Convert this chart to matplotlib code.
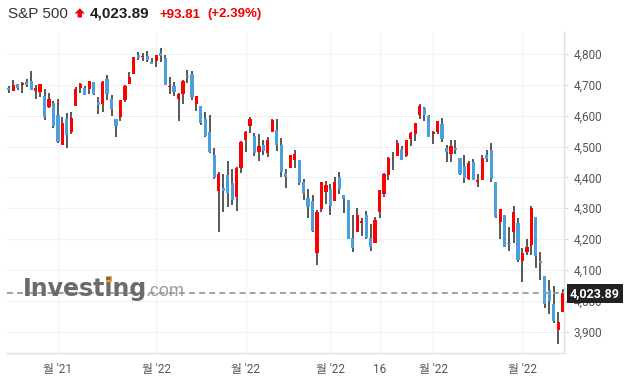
import matplotlib
matplotlib.use('Agg')
import matplotlib.pyplot as plt
from matplotlib.patches import Polygon, Rectangle

plt.rcParams['font.family'] = ['Roboto', 'Noto Sans CJK KR', 'DejaVu Sans']

# S&P 500 daily candles, 2021-11-15 .. 2022-05-13
dates = [
    '2021-11-15', '2021-11-16', '2021-11-17', '2021-11-18', '2021-11-19', '2021-11-22',
    '2021-11-23', '2021-11-24', '2021-11-26', '2021-11-29', '2021-11-30',
    '2021-12-01', '2021-12-02', '2021-12-03', '2021-12-06', '2021-12-07', '2021-12-08',
    '2021-12-09', '2021-12-10', '2021-12-13', '2021-12-14', '2021-12-15', '2021-12-16',
    '2021-12-17', '2021-12-20', '2021-12-21', '2021-12-22', '2021-12-23', '2021-12-27',
    '2021-12-28', '2021-12-29', '2021-12-30', '2021-12-31',
    '2022-01-03', '2022-01-04', '2022-01-05', '2022-01-06', '2022-01-07', '2022-01-10',
    '2022-01-11', '2022-01-12', '2022-01-13', '2022-01-14', '2022-01-18', '2022-01-19',
    '2022-01-20', '2022-01-21', '2022-01-24', '2022-01-25', '2022-01-26', '2022-01-27',
    '2022-01-28', '2022-01-31',
    '2022-02-01', '2022-02-02', '2022-02-03', '2022-02-04', '2022-02-07', '2022-02-08',
    '2022-02-09', '2022-02-10', '2022-02-11', '2022-02-14', '2022-02-15', '2022-02-16',
    '2022-02-17', '2022-02-18', '2022-02-22', '2022-02-23', '2022-02-24', '2022-02-25',
    '2022-02-28',
    '2022-03-01', '2022-03-02', '2022-03-03', '2022-03-04', '2022-03-07', '2022-03-08',
    '2022-03-09', '2022-03-10', '2022-03-11', '2022-03-14', '2022-03-15', '2022-03-16',
    '2022-03-17', '2022-03-18', '2022-03-21', '2022-03-22', '2022-03-23', '2022-03-24',
    '2022-03-25', '2022-03-28', '2022-03-29', '2022-03-30', '2022-03-31',
    '2022-04-01', '2022-04-04', '2022-04-05', '2022-04-06', '2022-04-07', '2022-04-08',
    '2022-04-11', '2022-04-12', '2022-04-13', '2022-04-14', '2022-04-18', '2022-04-19',
    '2022-04-20', '2022-04-21', '2022-04-22', '2022-04-25', '2022-04-26', '2022-04-27',
    '2022-04-28', '2022-04-29',
    '2022-05-02', '2022-05-03', '2022-05-04', '2022-05-05', '2022-05-06', '2022-05-09',
    '2022-05-10', '2022-05-11', '2022-05-12', '2022-05-13',
]

opens = [
    4689.30, 4679.42, 4701.50, 4700.72, 4708.44, 4712.00, 4678.48, 4675.78, 4664.63, 4628.75, 4640.25,
    4602.82, 4504.73, 4589.49, 4548.37, 4631.97, 4690.86, 4691.00, 4687.64, 4710.30, 4642.99, 4636.46,
    4719.13, 4652.50, 4587.90, 4594.96, 4650.36, 4703.96, 4733.99, 4795.49, 4788.64, 4794.23, 4775.21,
    4778.14, 4804.51, 4787.99, 4693.39, 4697.66, 4655.34, 4669.14, 4728.59, 4733.56, 4637.99, 4632.24,
    4588.03, 4547.35, 4471.38, 4356.32, 4366.64, 4408.43, 4380.58, 4336.19, 4431.79,
    4519.57, 4566.39, 4535.41, 4482.79, 4505.75, 4480.02, 4547.00, 4553.24, 4506.27, 4412.61, 4429.28,
    4455.75, 4456.06, 4384.57, 4332.74, 4324.93, 4155.77, 4298.38, 4354.17,
    4363.14, 4322.56, 4401.31, 4342.12, 4327.01, 4202.66, 4223.10, 4252.55, 4279.50, 4202.75, 4188.82,
    4288.14, 4345.11, 4407.34, 4462.40, 4469.10, 4493.10, 4469.98, 4522.91, 4541.09, 4602.86, 4624.20,
    4599.02,
    4540.32, 4547.97, 4572.45, 4494.17, 4474.65, 4494.15, 4462.64, 4437.59, 4394.30, 4449.12, 4385.63,
    4390.63, 4472.26, 4489.17, 4385.83, 4255.34, 4278.14, 4186.52, 4222.58, 4253.75,
    4130.61, 4159.78, 4181.18, 4270.43, 4128.17, 4081.27, 4035.18, 3990.08, 3903.95, 3963.90,
]

highs = [
    4697.42, 4714.95, 4701.50, 4708.80, 4717.75, 4743.83, 4699.39, 4702.87, 4685.25, 4672.95, 4646.02,
    4652.94, 4595.46, 4608.03, 4612.60, 4694.04, 4705.06, 4695.26, 4713.57, 4710.30, 4660.47, 4712.60,
    4731.99, 4666.70, 4587.90, 4651.14, 4697.67, 4740.74, 4791.49, 4807.02, 4804.06, 4808.93, 4786.83,
    4796.64, 4818.62, 4797.70, 4725.01, 4707.95, 4673.02, 4714.13, 4748.83, 4744.13, 4665.13, 4632.24,
    4611.55, 4602.11, 4494.52, 4417.35, 4411.01, 4453.23, 4428.74, 4432.72, 4516.89,
    4550.49, 4595.31, 4542.88, 4539.66, 4521.86, 4531.32, 4590.03, 4588.92, 4526.33, 4426.22, 4472.77,
    4489.55, 4456.06, 4394.60, 4362.12, 4341.51, 4294.73, 4385.34, 4388.84,
    4378.45, 4401.48, 4416.78, 4342.12, 4327.01, 4276.94, 4299.40, 4268.28, 4291.01, 4247.57, 4271.05,
    4357.86, 4412.67, 4465.40, 4481.75, 4522.00, 4501.07, 4520.58, 4546.03, 4575.65, 4637.30, 4627.77,
    4603.07,
    4548.70, 4583.50, 4593.45, 4503.94, 4521.16, 4520.41, 4464.35, 4471.00, 4453.92, 4460.46, 4410.31,
    4471.03, 4488.29, 4512.94, 4385.83, 4299.02, 4278.14, 4240.71, 4308.45, 4269.68,
    4169.81, 4200.10, 4307.66, 4270.43, 4157.69, 4081.27, 4068.82, 4049.09, 3964.80, 4038.88,
]

lows = [
    4672.86, 4679.42, 4684.41, 4672.78, 4694.22, 4682.17, 4652.66, 4659.89, 4585.43, 4625.26, 4560.00,
    4510.27, 4504.73, 4495.12, 4540.51, 4631.97, 4674.52, 4665.98, 4670.24, 4667.60, 4606.52, 4611.22,
    4651.89, 4600.22, 4531.10, 4583.16, 4645.53, 4703.96, 4733.99, 4780.04, 4778.08, 4775.33, 4765.75,
    4758.17, 4774.27, 4699.44, 4671.26, 4662.74, 4582.24, 4638.27, 4706.71, 4650.29, 4614.75, 4568.70,
    4530.20, 4477.95, 4395.34, 4222.62, 4287.11, 4304.80, 4309.50, 4292.46, 4414.02,
    4483.53, 4544.32, 4470.39, 4451.50, 4471.47, 4465.40, 4547.00, 4484.31, 4401.41, 4364.84, 4429.28,
    4429.68, 4373.81, 4327.22, 4267.11, 4221.51, 4114.65, 4286.83, 4315.12,
    4279.54, 4322.56, 4345.56, 4284.98, 4199.85, 4157.87, 4223.10, 4209.80, 4200.49, 4161.72, 4187.90,
    4267.66, 4335.65, 4390.57, 4424.30, 4469.10, 4455.81, 4465.17, 4501.07, 4517.69, 4589.66, 4581.32,
    4530.41,
    4507.57, 4539.21, 4514.17, 4450.04, 4450.30, 4474.60, 4408.38, 4381.34, 4392.70, 4390.77, 4370.30,
    4390.63, 4448.76, 4384.47, 4267.62, 4200.82, 4175.04, 4162.90, 4188.63, 4124.28,
    4062.51, 4147.08, 4148.91, 4106.01, 4067.91, 3975.48, 3958.17, 3928.82, 3858.87, 3963.90,
]

closes = [
    4682.80, 4700.90, 4688.67, 4704.54, 4697.96, 4682.94, 4690.70, 4701.46, 4594.62, 4655.27, 4567.00,
    4513.04, 4577.10, 4538.43, 4591.67, 4686.75, 4701.21, 4667.45, 4712.02, 4668.97, 4634.09, 4709.85,
    4668.67, 4620.64, 4568.02, 4649.23, 4696.56, 4725.79, 4791.19, 4786.35, 4793.06, 4778.73, 4766.18,
    4796.56, 4793.54, 4700.58, 4696.05, 4677.03, 4670.29, 4713.07, 4726.35, 4659.03, 4662.85, 4577.11,
    4532.76, 4482.73, 4397.94, 4410.13, 4356.45, 4349.93, 4326.51, 4431.85, 4515.55,
    4546.54, 4589.38, 4477.44, 4500.53, 4483.87, 4521.54, 4587.18, 4504.08, 4418.64, 4401.67, 4471.07,
    4475.01, 4380.26, 4348.87, 4304.76, 4225.50, 4288.70, 4384.65, 4373.94,
    4306.26, 4386.54, 4363.49, 4328.87, 4201.09, 4170.70, 4277.88, 4259.52, 4204.31, 4173.11, 4262.45,
    4357.86, 4411.67, 4463.12, 4461.18, 4511.61, 4456.24, 4520.16, 4543.06, 4575.52, 4631.60, 4602.45,
    4530.41,
    4545.86, 4582.64, 4525.12, 4481.15, 4500.21, 4488.28, 4412.53, 4397.45, 4446.59, 4392.59, 4391.69,
    4462.21, 4459.45, 4393.66, 4271.78, 4296.12, 4175.20, 4183.96, 4287.50, 4131.93,
    4155.38, 4175.48, 4300.17, 4146.87, 4123.34, 3991.24, 4001.05, 3935.18, 3930.08, 4023.89,
]

tick_dates = ['2021-12-01', '2022-01-03', '2022-02-01', '2022-03-01', '2022-03-16', '2022-04-01', '2022-05-02']
tick_labels = ["월 '21", "월 '22", "월 '22", "월 '22", "16", "월 '22", "월 '22"]
y_ticks = [3900, 4000, 4100, 4200, 4300, 4400, 4500, 4600, 4700, 4800]

last = 4023.89
change = 93.81
change_pct = 2.39

W, H = 629, 387
fig = plt.figure(figsize=(W / 100, H / 100), dpi=100)


def fx(x):
    return x / W


def fy(y):
    return 1 - y / H


ax = fig.add_axes([fx(7), fy(353), (564 - 7) / W, (353 - 32) / H])

x = list(range(len(dates)))
colors = ['#ff0000' if c >= o else '#4d9fdb' for o, c in zip(opens, closes)]
bottoms = [min(o, c) for o, c in zip(opens, closes)]
heights = [max(abs(c - o), 3) for o, c in zip(opens, closes)]

ax.vlines(x, lows, highs, color='#2b2b2b', lw=1.1, zorder=2)
ax.bar(x, heights, 0.72, bottoms, color=colors, linewidth=0, zorder=3)

ax.set_xlim(-0.4, len(dates) - 0.7)
ax.set_ylim(3831, 4871)

# grid + axes look
ax.set_axisbelow(True)
ax.grid(True, color='#f2f2f2', lw=0.9)
for s in ['left', 'top']:
    ax.spines[s].set_visible(False)
for s in ['bottom', 'right']:
    ax.spines[s].set_color('#e0e0e6')
    ax.spines[s].set_linewidth(1)

ax.yaxis.tick_right()
ax.set_yticks(y_ticks)
ax.set_yticklabels([f'{v:,}' for v in y_ticks])
ax.tick_params(axis='y', length=3, color='#d6d6d6', pad=4, labelsize=8.5, labelcolor='#555555')

ax.set_xticks([dates.index(d) for d in tick_dates])
ax.set_xticklabels(tick_labels)
ax.tick_params(axis='x', length=0, pad=7, labelsize=8.5, labelcolor='#555555')

# last price line + label
ax.axhline(last, color='#9a9a9a', lw=1.3, linestyle=(0, (3.3, 2.3)), zorder=4)
ax.text(1.0108, last, f'{last:,.2f}', transform=ax.get_yaxis_transform(),
        ha='left', va='center', color='white', fontsize=9, fontweight='bold',
        bbox=dict(boxstyle='square,pad=0.25', fc='#222222', ec='none'), zorder=6, clip_on=False)

# watermark
wm = dict(fontsize=17, fontweight='bold', family='DejaVu Sans', color='#6b6b6b',
          va='baseline', ha='left')
fig.text(fx(23), fy(296), 'Investing', **wm)
fig.text(fx(145), fy(296), '.com', fontsize=13, family='Liberation Sans',
         color='#9c9c9c', va='baseline', ha='left')
# orange dot on the second "i"
r = fig.canvas.get_renderer()
t1 = fig.text(fx(23), fy(296), 'Invest', **wm)
t2 = fig.text(fx(23), fy(296), 'Investi', **wm)
x1 = t1.get_window_extent(r).x1
x2 = t2.get_window_extent(r).x1
t1.remove()
t2.remove()
cx = (x1 + x2) / 2
fig.patches.append(Rectangle((fx(cx - 3), fy(282)), 6 / W, 6 / H, transform=fig.transFigure,
                             facecolor='#f5a431', edgecolor='none'))

# header
fig.text(fx(8), fy(17.5), 'S&P 500', fontsize=11, family='Liberation Sans', color='#333333',
         va='baseline', ha='left')
arrow = [(79.8, 8.3), (85, 13.5), (82, 13.5), (82, 17.5), (77.6, 17.5), (77.6, 13.5), (74.6, 13.5)]
fig.patches.append(Polygon([(fx(a), fy(b)) for a, b in arrow], closed=True,
                           transform=fig.transFigure, facecolor='#ee0000', edgecolor='none'))
fig.text(fx(89.5), fy(17.5), f'{last:,.2f}', fontsize=11, fontweight='bold',
         family='Liberation Sans', color='#1e1e1e', va='baseline', ha='left')
fig.text(fx(159), fy(17.5), f'+{change:.2f}', fontsize=9.5, fontweight='bold',
         family='Liberation Sans', color='#ee0000', va='baseline', ha='left')
fig.text(fx(207), fy(17.5), f'(+{change_pct:.2f}%)', fontsize=9.5, fontweight='bold',
         family='Liberation Sans', color='#ee0000', va='baseline', ha='left')

fig.savefig('out.png', dpi=100)
